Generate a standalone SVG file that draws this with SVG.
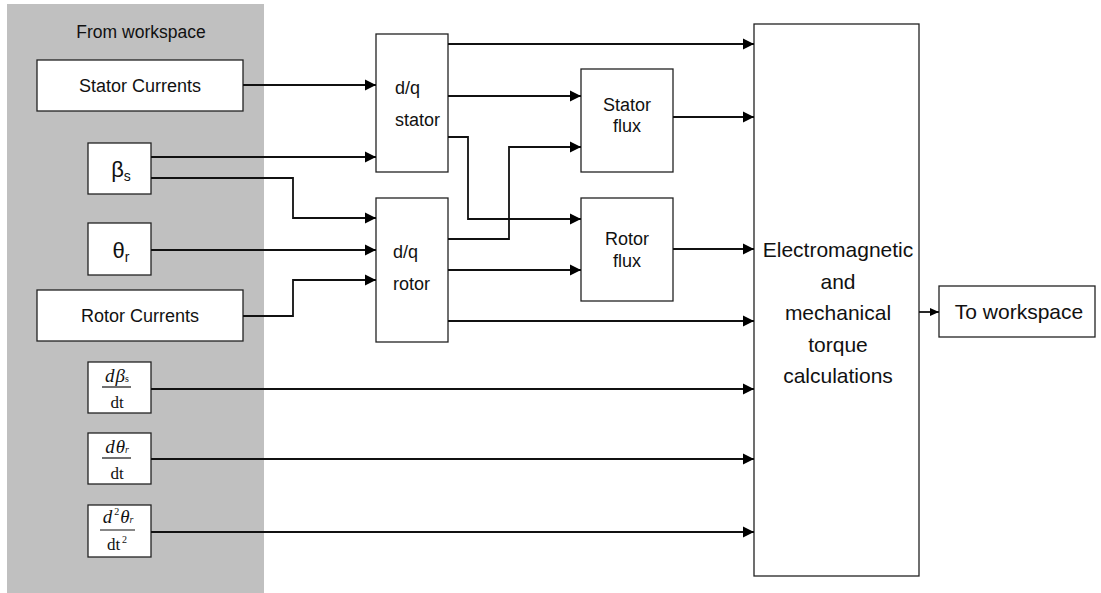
<svg xmlns="http://www.w3.org/2000/svg" width="1101" height="593" viewBox="0 0 1101 593">
<style>
.box{fill:#fff;stroke:#222;stroke-width:1.3}
.t{font-family:"Liberation Sans",Arial,sans-serif;fill:#111;text-anchor:middle}
.l{font-family:"Liberation Sans",Arial,sans-serif;fill:#111;text-anchor:start}
.m{font-family:"Liberation Serif","Times New Roman",serif;fill:#111;text-anchor:middle}
.c{fill:none;stroke:#111;stroke-width:1.8}
</style>
<defs>
<marker id="a" markerUnits="userSpaceOnUse" markerWidth="12" markerHeight="12" refX="11" refY="6" orient="auto">
<path d="M0,0.5 L11,6 L0,11.5 z" fill="#000"/>
</marker>
<marker id="s" markerUnits="userSpaceOnUse" markerWidth="10" markerHeight="10" refX="9" refY="5" orient="auto">
<path d="M0,1 L9,5 L0,9 z" fill="#000"/>
</marker>
</defs>
<rect x="7" y="4" width="257" height="589" fill="#c0c0c0"/>
<text class="t" x="141" y="38" font-size="17.5">From workspace</text>
<g id="stator-currents"><rect class="box" x="37" y="60" width="206" height="51"/><text class="t" x="140" y="92" font-size="18">Stator Currents</text></g>
<g id="beta-s"><rect class="box" x="88" y="143" width="63" height="51"/><text class="t" x="121" y="177" font-size="22">β<tspan font-size="14" dy="4">s</tspan></text></g>
<g id="theta-r"><rect class="box" x="88" y="223" width="63" height="52"/><text class="t" x="121" y="258" font-size="22">θ<tspan font-size="14" dy="4">r</tspan></text></g>
<g id="rotor-currents"><rect class="box" x="37" y="290" width="206" height="51"/><text class="t" x="140" y="322" font-size="18">Rotor Currents</text></g>
<g id="dbeta-dt"><rect class="box" x="88" y="362" width="63" height="51"/><text class="m" x="117" y="382" font-size="19" font-style="italic">d<tspan dx="1">β</tspan><tspan font-size="10" font-style="normal">s</tspan></text><line x1="102" y1="387" x2="131" y2="387" stroke="#111" stroke-width="1.2"/><text class="m" x="117" y="408" font-size="17">dt</text></g>
<g id="dtheta-dt"><rect class="box" x="88" y="433" width="63" height="51"/><text class="m" x="117" y="453" font-size="19" font-style="italic">d<tspan dx="1">θ</tspan><tspan font-size="10">r</tspan></text><line x1="102" y1="458" x2="131" y2="458" stroke="#111" stroke-width="1.2"/><text class="m" x="117" y="479" font-size="17">dt</text></g>
<g id="d2theta-dt2"><rect class="box" x="88" y="505" width="63" height="52"/><text class="m" x="118" y="523" font-size="19" font-style="italic">d<tspan font-size="10" font-style="normal" dx="2" dy="-8">2</tspan><tspan dx="1" dy="8">θ</tspan><tspan font-size="10">r</tspan></text><line x1="100" y1="530" x2="135" y2="530" stroke="#111" stroke-width="1.2"/><text class="m" x="117" y="550" font-size="17">dt<tspan font-size="10" dx="2" dy="-7">2</tspan></text></g>
<g id="dq-stator"><rect class="box" x="376" y="34" width="72" height="138"/><text class="l" x="395" y="94" font-size="18">d/q</text><text class="l" x="395" y="126" font-size="18">stator</text></g>
<g id="dq-rotor"><rect class="box" x="376" y="198" width="72" height="144"/><text class="l" x="393" y="258" font-size="18">d/q</text><text class="l" x="393" y="290" font-size="18">rotor</text></g>
<g id="stator-flux"><rect class="box" x="581" y="69" width="92" height="103"/><text class="t" x="627" y="111" font-size="18">Stator</text><text class="t" x="627" y="132" font-size="18">flux</text></g>
<g id="rotor-flux"><rect class="box" x="581" y="198" width="92" height="103"/><text class="t" x="627" y="245" font-size="18">Rotor</text><text class="t" x="627" y="267" font-size="18">flux</text></g>
<g id="em"><rect class="box" x="754" y="24" width="165" height="552"/>
<text class="t" x="838" y="257" font-size="21">Electromagnetic</text>
<text class="t" x="838" y="289" font-size="21">and</text>
<text class="t" x="838" y="320" font-size="21">mechanical</text>
<text class="t" x="838" y="352" font-size="21">torque</text>
<text class="t" x="838" y="383" font-size="21">calculations</text></g>
<g id="to-workspace"><rect class="box" x="939" y="286" width="156" height="51"/><text class="t" x="1019" y="319" font-size="21">To workspace</text></g>
<g id="connectors">
<path class="c" marker-end="url(#a)" d="M243,85 H376"/>
<path class="c" marker-end="url(#a)" d="M151,157 H376"/>
<path class="c" marker-end="url(#a)" d="M151,178 H293 V218 H376"/>
<path class="c" marker-end="url(#a)" d="M151,250 H376"/>
<path class="c" marker-end="url(#a)" d="M243,316 H293 V280 H376"/>
<path class="c" marker-end="url(#a)" d="M151,389 H754"/>
<path class="c" marker-end="url(#a)" d="M151,459 H754"/>
<path class="c" marker-end="url(#a)" d="M151,532 H754"/>
<path class="c" marker-end="url(#a)" d="M448,44 H754"/>
<path class="c" marker-end="url(#a)" d="M448,96 H581"/>
<path class="c" marker-end="url(#a)" d="M448,137 H468 V219 H581"/>
<path class="c" marker-end="url(#a)" d="M448,239 H509 V147 H581"/>
<path class="c" marker-end="url(#a)" d="M448,270 H581"/>
<path class="c" marker-end="url(#a)" d="M448,321 H754"/>
<path class="c" marker-end="url(#a)" d="M673,117 H754"/>
<path class="c" marker-end="url(#a)" d="M673,249 H754"/>
<path class="c" marker-end="url(#s)" d="M919,312 H939"/>
</g>
</svg>
